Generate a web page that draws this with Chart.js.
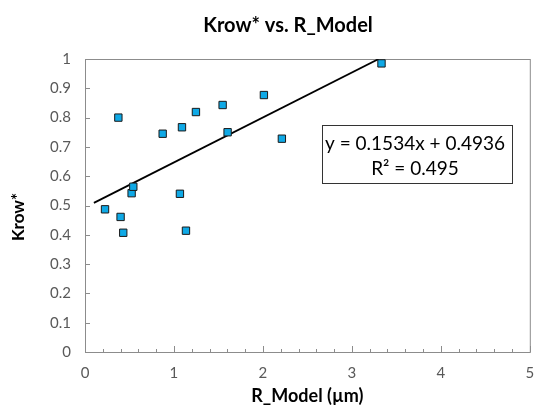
<!DOCTYPE html>
<html>
<head>
<meta charset="utf-8">
<script src="https://cdn.jsdelivr.net/npm/chart.js@4"></script>
<style>
html, body { margin: 0; padding: 0; background: #fff; }
</style>
</head>
<body>
<canvas id="grafica" width="536" height="407"></canvas>
<script>
// R_Model (µm) values and matching Krow* values
const rModel = [0.225, 0.375, 0.40, 0.43, 0.524, 0.543, 0.873, 1.067, 1.09, 1.135, 1.247, 1.547, 1.603, 2.011, 2.213, 3.333];
const krow   = [0.487, 0.800, 0.461, 0.407, 0.542, 0.564, 0.745, 0.540, 0.767, 0.414, 0.819, 0.843, 0.750, 0.877, 0.728, 0.985];

// linear trendline from the reference
const slope = 0.1534;
const intercept = 0.4936;
const rSquared = 0.495;
const trendFrom = 0.1;
const trendTo = (1 - intercept) / slope;

const xTicks = [0, 1, 2, 3, 4, 5];
const yTicks = [0, 0.1, 0.2, 0.3, 0.4, 0.5, 0.6, 0.7, 0.8, 0.9, 1];

const puntos = rModel.map((x, i) => ({ x: x, y: krow[i] }));
const tendencia = [trendFrom, trendTo].map(x => ({ x: x, y: slope * x + intercept }));

const textoGris = '#595959';
const bordeGris = '#8c8c8c';

// frame, inside ticks, titles and equation box
const decoracion = {
    id: 'decoracion',
    beforeDatasetsDraw(chart) {
        const { ctx, chartArea: a, scales } = chart;
        ctx.save();
        ctx.strokeStyle = bordeGris;
        ctx.lineWidth = 1;
        ctx.strokeRect(a.left + 0.5, a.top + 0.5, a.right - a.left, a.bottom - a.top);

        ctx.beginPath();
        for (let v = 0; v <= 5.001; v += 0.2) {
            const px = Math.round(scales.x.getPixelForValue(v)) + 0.5;
            const major = Math.abs(v - Math.round(v)) < 0.01;
            ctx.moveTo(px, a.bottom);
            ctx.lineTo(px, a.bottom - (major ? 6 : 3));
        }
        yTicks.forEach(v => {
            const py = Math.round(scales.y.getPixelForValue(v)) + 0.5;
            ctx.moveTo(a.left, py);
            ctx.lineTo(a.left + 5, py);
        });
        ctx.stroke();
        ctx.restore();
    },
    afterDraw(chart) {
        const { ctx } = chart;
        ctx.save();
        ctx.fillStyle = '#000';
        ctx.textAlign = 'center';
        ctx.textBaseline = 'middle';

        ctx.font = 'bold 20px Lato';
        ctx.fillText('Krow* vs. R_Model', 288, 26);

        ctx.save();
        ctx.translate(19, 217);
        ctx.rotate(-Math.PI / 2);
        ctx.font = 'bold 17px Lato';
        ctx.fillText('Krow*', 0, 0);
        ctx.restore();

        ctx.fillStyle = '#fff';
        ctx.fillRect(322, 125, 190, 58);
        ctx.strokeStyle = '#333';
        ctx.lineWidth = 1;
        ctx.strokeRect(322.5, 125.5, 190, 58);
        ctx.fillStyle = '#000';
        ctx.font = '19px Lato';
        ctx.fillText('y = ' + slope + 'x + ' + intercept, 415, 144);
        ctx.fillText('R\u00b2 = ' + rSquared, 415, 169);
        ctx.restore();
    }
};

let grafica = new Chart(document.getElementById('grafica').getContext('2d'), {
    type: 'scatter',
    data: {
        datasets: [{
            label: 'Krow*',
            data: puntos,
            pointStyle: 'rect',
            pointRadius: 5.2,
            pointHoverRadius: 5.2,
            backgroundColor: '#0fa9e6',
            borderColor: '#1a1a1a',
            borderWidth: 1,
            order: 1
        }, {
            type: 'line',
            label: 'Tendencia',
            data: tendencia,
            borderColor: '#000',
            borderWidth: 1.8,
            pointRadius: 0,
            fill: false,
            order: 2
        }]
    },
    options: {
        responsive: false,
        animation: false,
        devicePixelRatio: 1,
        layout: { padding: { top: 59, right: 6, left: 0, bottom: 0 } },
        plugins: {
            legend: { display: false },
            tooltip: { enabled: false },
            title: { display: false }
        },
        scales: {
            x: {
                type: 'linear',
                min: 0,
                max: 5,
                afterBuildTicks: s => { s.ticks = xTicks.map(v => ({ value: v })); },
                afterFit: s => { s.height = 55; s.paddingRight = 0; s.paddingLeft = 0; },
                grid: { display: false, drawTicks: false },
                border: { display: false },
                ticks: { color: textoGris, font: { family: 'Lato', size: 15 }, padding: 12 },
                title: {
                    display: true,
                    text: 'R_Model (µm)',
                    color: '#000',
                    font: { family: 'Lato', size: 18, weight: 'bold' },
                    padding: { top: 0, bottom: 0 }
                }
            },
            y: {
                min: 0,
                max: 1,
                afterBuildTicks: s => { s.ticks = yTicks.map(v => ({ value: v })); },
                afterFit: s => { s.width = 85; },
                grid: { display: false, drawTicks: false },
                border: { display: false },
                ticks: {
                    color: textoGris,
                    font: { family: 'Lato', size: 15 },
                    padding: 14,
                    callback: v => String(Number(v.toFixed(1)))
                }
            }
        }
    },
    plugins: [decoracion]
});
</script>
</body>
</html>
